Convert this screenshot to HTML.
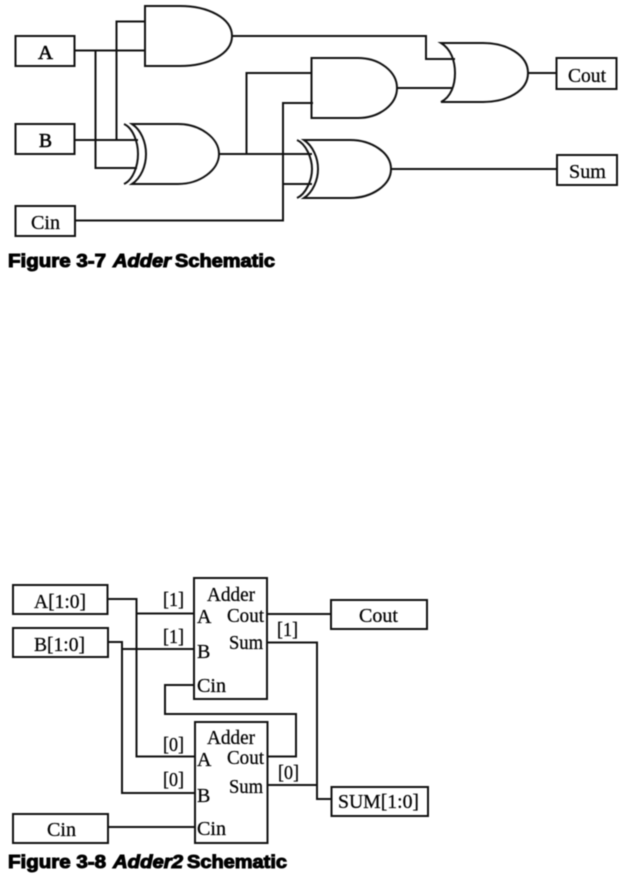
<!DOCTYPE html>
<html><head><meta charset="utf-8"><style>
html,body{margin:0;padding:0;background:#fff;width:623px;height:877px;overflow:hidden}
svg{display:block;filter:blur(0.4px)}
.l{fill:none;stroke:#111;stroke-width:2}
.t{font-family:"Liberation Serif",serif;font-size:20px;fill:#000;stroke:#000;stroke-width:.25}
.c{font-family:"Liberation Sans",sans-serif;font-size:18px;font-weight:bold;fill:#000;stroke:#000;stroke-width:1}
</style></head><body>
<svg width="623" height="877" viewBox="0 0 623 877" xmlns="http://www.w3.org/2000/svg">
<g class="l">
<!-- Fig 3-7 boxes -->
<rect x="15.5" y="36" width="59" height="30"/>
<rect x="15.5" y="124" width="59" height="30"/>
<rect x="15.5" y="206" width="59.5" height="30"/>
<rect x="556.5" y="58" width="60" height="31"/>
<rect x="557" y="155" width="60" height="30"/>
<!-- wires -->
<path d="M75 50.5H145M95.5 50.5V168H137M116.5 139.5V21.5H145M75 140H138"/>
<path d="M76 220.5H283V103H313M283 154V184H312M219 154H312M246.5 154V73H312"/>
<path d="M391 169H557M232 36H426V59H455M397 88H453M528 73H556"/>
<!-- AND1 -->
<path d="M145 6H180C208 6 232 18 232 36C232 54 208 66 180 66H145Z"/>
<!-- AND2 -->
<path d="M311.5 58H358C380 58 397 72 397 88C397 104 380 118 358 118H311.5Z"/>
<!-- XOR1 -->
<path d="M124 124C133 128 138 142 138 154C138 166 133 180 124 184"/>
<path d="M132 124H178C200 124 219 138 219 154C219 170 200 184 178 184H132C141 178 146 166 146 154C146 142 141 130 132 124Z"/>
<!-- XOR2 -->
<path d="M297 140C306 144 312 158 312 169C312 180 306 194 297 198"/>
<path d="M304 140H350C372 140 391 153 391 169C391 185 372 198 350 198H304C313 192 318 180 318 169C318 158 313 146 304 140Z"/>
<!-- OR -->
<path d="M441 43H483C507 43 528 55 528 73C528 91 507 102 483 102H441C451 97 455 85 455 73C455 61 451 49 441 43Z"/>
<!-- Fig 3-8 boxes -->
<rect x="13" y="585" width="94.5" height="29"/>
<rect x="13" y="628" width="95" height="29"/>
<rect x="13" y="814" width="95" height="29"/>
<rect x="194" y="578" width="73" height="121"/>
<rect x="195" y="722" width="72.5" height="121"/>
<rect x="331" y="600" width="96" height="29"/>
<rect x="331.5" y="787" width="96.5" height="29"/>
<!-- wires -->
<path d="M108 599H136.5V756.5H195M136.5 613.5H194"/>
<path d="M108 642H122V793H195M122 649H194"/>
<path d="M108 827H195"/>
<path d="M194 685H165V714H296V756.5H267"/>
<path d="M267 614H331M267 642.5H317V799H331M267 785H317"/>
</g>
<g class="t">
<text x="38" y="59" textLength="15" lengthAdjust="spacingAndGlyphs" style="stroke-width:.6">A</text>
<text x="39" y="147" textLength="13" lengthAdjust="spacingAndGlyphs" style="stroke-width:.6">B</text>
<text x="31" y="229" textLength="29" lengthAdjust="spacingAndGlyphs">Cin</text>
<text x="568" y="82" textLength="38" lengthAdjust="spacingAndGlyphs">Cout</text>
<text x="569" y="178" textLength="37" lengthAdjust="spacingAndGlyphs">Sum</text>

<text x="34" y="608" textLength="52" lengthAdjust="spacingAndGlyphs">A[1:0]</text>
<text x="34" y="651" textLength="51" lengthAdjust="spacingAndGlyphs">B[1:0]</text>
<text x="47" y="836" textLength="29" lengthAdjust="spacingAndGlyphs">Cin</text>
<text x="163" y="606" textLength="21" lengthAdjust="spacingAndGlyphs">[1]</text>
<text x="163" y="643" textLength="21" lengthAdjust="spacingAndGlyphs">[1]</text>
<text x="163" y="751" textLength="21" lengthAdjust="spacingAndGlyphs">[0]</text>
<text x="163" y="786" textLength="21" lengthAdjust="spacingAndGlyphs">[0]</text>
<text x="197" y="623">A</text>
<text x="197" y="658">B</text>
<text x="197" y="692" textLength="29" lengthAdjust="spacingAndGlyphs">Cin</text>
<text x="197" y="766">A</text>
<text x="197" y="802">B</text>
<text x="197" y="835" textLength="29" lengthAdjust="spacingAndGlyphs">Cin</text>
<text x="207" y="601" textLength="48" lengthAdjust="spacingAndGlyphs">Adder</text>
<text x="207" y="744" textLength="48" lengthAdjust="spacingAndGlyphs">Adder</text>
<text x="227" y="622" textLength="37" lengthAdjust="spacingAndGlyphs">Cout</text>
<text x="229" y="649" textLength="34" lengthAdjust="spacingAndGlyphs">Sum</text>
<text x="227" y="764" textLength="37" lengthAdjust="spacingAndGlyphs">Cout</text>
<text x="229" y="793" textLength="34" lengthAdjust="spacingAndGlyphs">Sum</text>
<text x="277" y="636" textLength="21" lengthAdjust="spacingAndGlyphs">[1]</text>
<text x="278" y="779" textLength="21" lengthAdjust="spacingAndGlyphs">[0]</text>
<text x="359" y="622" textLength="39" lengthAdjust="spacingAndGlyphs">Cout</text>
<text x="338" y="808" textLength="81" lengthAdjust="spacingAndGlyphs">SUM[1:0]</text>
</g>
<g class="c">
<text x="8" y="267" textLength="98" lengthAdjust="spacingAndGlyphs">Figure 3-7</text>
<text x="113" y="267" textLength="58" lengthAdjust="spacingAndGlyphs" font-style="italic">Adder</text>
<text x="175" y="267" textLength="100" lengthAdjust="spacingAndGlyphs">Schematic</text>
<text x="8" y="868" textLength="98" lengthAdjust="spacingAndGlyphs">Figure 3-8</text>
<text x="113" y="868" textLength="70" lengthAdjust="spacingAndGlyphs" font-style="italic">Adder2</text>
<text x="187" y="868" textLength="100" lengthAdjust="spacingAndGlyphs">Schematic</text>
</g>
</svg>
</body></html>
